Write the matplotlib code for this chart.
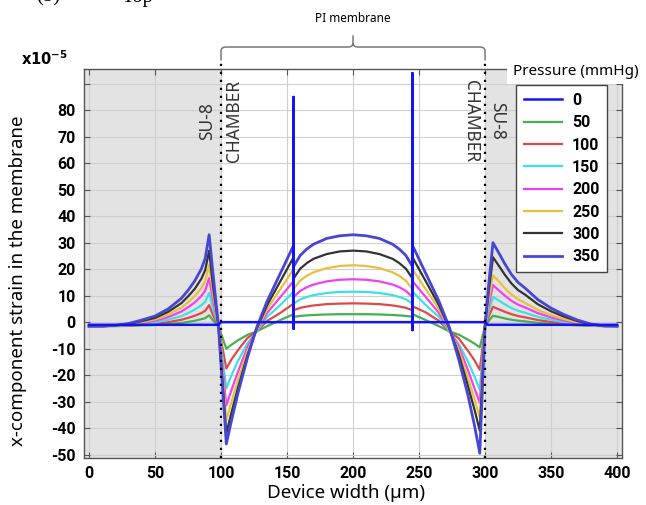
import matplotlib
matplotlib.use("Agg")
import matplotlib.pyplot as plt
from matplotlib.path import Path
from matplotlib.patches import PathPatch, Rectangle
from matplotlib.transforms import blended_transform_factory

plt.rcParams['font.family'] = ['Noto Sans', 'DejaVu Sans']
plt.rcParams['axes.unicode_minus'] = False

# x positions along the device (um)
x_pos = [0, 10, 20, 30, 40, 50, 60, 70, 75, 80, 85, 88, 91, 94, 98,
         104, 108, 113, 120, 127, 135, 145, 155,
         155, 160, 165, 170, 180, 190, 200, 210, 220, 230, 235, 240, 245,
         245, 255, 265, 273, 280, 287, 292, 296,
         300, 303, 306, 310, 315, 320, 325, 330, 340, 350, 360, 370, 380, 390, 400]

# strain (x1e-5) for each pressure
strain_50 = [-1.5, -1.5, -1.5, -1.4, -1.2, -1.1, -0.7, -0.3, 0.1, 0.5, 1.1, 1.5, 2.6, 0.6, -1.4,
             -10, -8.5, -6.8, -4.8, -3.5, -1.5, 0.8, 3,
             2.0, 2.35, 2.55, 2.7, 2.9, 3.0, 3.0, 3.0, 2.9, 2.7, 2.55, 2.35, 2.0,
             3, 0.8, -1.5, -3.5, -4.7, -6.6, -8.1, -9.5,
             -1.44, 0.6, 2.4, 2.0, 1.4, 0.9, 0.55, 0.3, -0.26, -0.66, -0.97, -1.21, -1.4, -1.49, -1.5]
strain_100 = [-1.5, -1.5, -1.4, -1.3, -1.0, -0.6, 0.0, 0.9, 1.6, 2.4, 3.4, 4.3, 6.4, 2.6, -1.4,
              -17.5, -14, -10.5, -6, -3.5, 0.5, 3.5, 7,
              4.5, 5.4, 5.9, 6.3, 6.8, 7.0, 7.1, 7.0, 6.8, 6.3, 5.9, 5.4, 4.5,
              6, 3.7, 0.5, -3.5, -6.1, -10.8, -14.4, -18,
              -1.4, 2.4, 5.8, 4.95, 3.9, 3.0, 2.3, 1.85, 0.8, 0.06, -0.5, -0.97, -1.32, -1.48, -1.5]
strain_150 = [-1.5, -1.5, -1.4, -1.1, -0.7, -0.1, 0.9, 2.3, 3.4, 4.7, 6.3, 7.7, 11.0, 5.0, -1.3,
              -25, -20, -14.5, -8, -3.5, 2, 6.5, 11.5,
              7.0, 8.6, 9.5, 10.2, 11.0, 11.4, 11.5, 11.4, 11.0, 10.2, 9.5, 8.6, 7.0,
              11.5, 6.5, 2, -3.5, -8.2, -14.8, -20.5, -25.5,
              -1.32, 4.45, 9.5, 8.3, 6.7, 5.3, 4.3, 3.6, 2.0, 0.9, 0.0, -0.7, -1.22, -1.46, -1.5]
strain_200 = [-1.5, -1.5, -1.3, -1.0, -0.3, 0.5, 1.9, 4.0, 5.6, 7.4, 9.8, 11.9, 16.6, 8.0, -1.2,
              -31.5, -25.5, -18.5, -9.5, -3, 3.5, 9.5, 15.5,
              9.5, 11.8, 13.2, 14.2, 15.4, 16.0, 16.2, 16.0, 15.4, 14.2, 13.2, 11.8, 9.5,
              15.5, 9.5, 3.5, -3, -9.2, -18, -25, -30.5,
              -1.25, 6.8, 14.0, 12.2, 10.0, 8.05, 6.6, 5.6, 3.4, 1.8, 0.6, -0.4, -1.1, -1.45, -1.5]
strain_250 = [-1.5, -1.5, -1.3, -0.8, 0.0, 1.0, 2.8, 5.5, 7.5, 9.8, 12.8, 15.5, 21.5, 10.5, -1.2,
              -37, -30, -21.5, -11, -3, 5, 12.5, 20,
              12.5, 15.7, 17.5, 18.8, 20.4, 21.2, 21.5, 21.2, 20.4, 18.8, 17.5, 15.7, 12.5,
              20, 12.5, 5, -3, -10.5, -21, -29, -36,
              -1.2, 8.9, 17.7, 15.6, 12.8, 10.4, 8.6, 7.35, 4.6, 2.65, 1.1, -0.1, -1.0, -1.44, -1.5]
strain_300 = [-1.5, -1.5, -1.25, -0.7, 0.4, 1.6, 3.9, 7.2, 9.7, 12.5, 16.3, 19.6, 27.0, 13.4, -1.1,
              -42, -34, -24.5, -12.5, -2.5, 6.5, 15.5, 24.5,
              16.5, 20.2, 22.3, 23.9, 25.7, 26.7, 27.0, 26.7, 25.7, 23.9, 22.3, 20.2, 16.5,
              24.5, 15.5, 6.5, -2.5, -12, -24, -33, -41,
              -1.1, 12.5, 24.5, 21.6, 17.9, 14.6, 12.1, 10.5, 6.75, 4.1, 2.05, 0.4, -0.84, -1.42, -1.5]
strain_350 = [-1.5, -1.5, -1.2, -0.5, 0.8, 2.3, 5.0, 9.0, 12.0, 15.5, 20.0, 24.0, 33.0, 18.0, -1.0,
              -46, -37, -26.5, -13.5, -2, 8, 18.5, 29,
              21, 25.2, 27.6, 29.4, 31.6, 32.6, 33.0, 32.6, 31.6, 29.4, 27.6, 25.2, 21,
              29, 18.5, 8, -2, -14, -27.5, -39, -49.5,
              -1.0, 15.5, 30.0, 26.5, 22.0, 18.0, 15.0, 13.0, 8.5, 5.3, 2.8, 0.8, -0.7, -1.4, -1.5]

# zero pressure curve (flat, with the two spikes at the chamber steps)
x_zero = [0, 98, 100, 155, 155, 155, 155, 245, 245, 245, 245, 300, 302, 400]
strain_0 = [-1, -1, 0, 0, 85, -2.5, 0, 0, 94, -3, 0, 0, -1, -1]

pressures = ['0', '50', '100', '150', '200', '250', '300', '350']
colors = ['#1414f0', '#45b050', '#e04848', '#40e0e0', '#f040f0', '#e8c040', '#333333', '#4646d6']

chamber_left = 100
chamber_right = 300

fig = plt.figure(figsize=(6.46, 5.05), dpi=100)
ax = fig.add_axes([0.130, 0.093, 0.833, 0.770])

xmin, xmax = -3.8, 403.8
ax.set_xlim(xmin, xmax)
ax.set_ylim(-51.3, 95.5)

# shaded SU-8 regions
ax.axvspan(xmin, chamber_left, color='#e3e3e3', zorder=0, lw=0)
ax.axvspan(chamber_right, xmax, color='#e3e3e3', zorder=0, lw=0)
ax.set_axisbelow(True)
ax.grid(True, color='#cfcfcf', lw=0.8)

series = [strain_50, strain_100, strain_150, strain_200, strain_250, strain_300, strain_350]
lines = []
l0, = ax.plot(x_zero, strain_0, color=colors[0], lw=1.8, zorder=4)
lines.append(l0)
for vals, c in zip(series, colors[1:]):
    lw = 2.0 if c == colors[-1] else 1.6
    l, = ax.plot(x_pos, vals, color=c, lw=lw, zorder=3)
    lines.append(l)

# chamber boundaries
for xb in (chamber_left, chamber_right):
    ax.axvline(xb, ymin=0, ymax=1.025, color='black', lw=1.6,
               ls=(0, (1, 2.6)), clip_on=False, zorder=5)

ax.text(89.5, 75.8, 'SU-8', rotation=90, ha='center', va='center', fontsize=12.5, color='#333')
ax.text(110, 75.8, 'CHAMBER', rotation=90, ha='center', va='center', fontsize=12.5, color='#333')
ax.text(289, 75.8, 'CHAMBER', rotation=270, ha='center', va='center', fontsize=12.5, color='#333')
ax.text(309.5, 75.8, 'SU-8', rotation=270, ha='center', va='center', fontsize=12.5, color='#333')

# curly bracket for the PI membrane
trans = blended_transform_factory(ax.transData, ax.transAxes)
mid = (chamber_left + chamber_right) / 2
yb, ye, yt = 1.057, 1.022, 1.087
verts = [(chamber_left, ye), (chamber_left, yb - 0.01), (chamber_left, yb), (chamber_left + 4, yb),
         (mid - 4, yb), (mid, yb), (mid, yb + 0.01), (mid, yt),
         (mid, yb + 0.01), (mid, yb), (mid + 4, yb),
         (chamber_right - 4, yb), (chamber_right, yb), (chamber_right, yb - 0.01), (chamber_right, ye)]
codes = [Path.MOVETO, Path.LINETO, Path.CURVE3, Path.CURVE3,
         Path.LINETO, Path.CURVE3, Path.CURVE3, Path.LINETO,
         Path.MOVETO, Path.CURVE3, Path.CURVE3,
         Path.LINETO, Path.CURVE3, Path.CURVE3, Path.LINETO]
ax.add_patch(PathPatch(Path(verts, codes), transform=trans, fill=False,
                       edgecolor='#777777', lw=1.1, clip_on=False))
ax.text(mid, 1.131, 'PI membrane', transform=trans, ha='center', va='center', fontsize=8.5)

# axes styling
ax.set_xticks(range(0, 401, 50))
ax.set_yticks(range(-50, 91, 10))
ax.set_yticklabels([str(v) if v <= 80 else '' for v in range(-50, 91, 10)])
ax.tick_params(direction='in', top=True, right=True, length=4, width=0.8,
               color='#555555', pad=6)
for lab in ax.get_xticklabels() + ax.get_yticklabels():
    lab.set_fontfamily('Roboto')
    lab.set_fontweight('bold')
    lab.set_fontsize(11.5)
for s in ax.spines.values():
    s.set_color('#555555')
    s.set_linewidth(1.0)

ax.set_xlabel('Device width (µm)', fontsize=13.5)
ax.xaxis.set_label_coords(0.487, -0.066)
ax.set_ylabel('x-component strain in the membrane', fontsize=13.5)
ax.yaxis.set_label_coords(-0.105, 0.455)

ax.text(-0.03, 1.0, r'$\mathbf{x10^{-5}}$', transform=ax.transAxes,
        ha='right', va='bottom', fontsize=10.5)

# legend with its title sitting on a white strip above it
fig.patches.append(Rectangle((0.785, 0.834), 0.215, 0.048, transform=fig.transFigure,
                             facecolor='white', edgecolor='none', zorder=5))
fig.text(0.794, 0.859, 'Pressure (mmHg)', ha='left', va='center', fontsize=11, zorder=6)
leg = fig.legend(lines, pressures, loc='upper left', bbox_to_anchor=(0.799, 0.832),
                 frameon=True, fancybox=False, framealpha=1, edgecolor='#444444',
                 handlelength=2.4, labelspacing=0.46, borderaxespad=0, borderpad=0.5,
                 handletextpad=0.6, prop={'family': 'Roboto', 'weight': 'bold', 'size': 11.5})
leg.set_zorder(7)
leg.get_frame().set_linewidth(1.0)

# cropped caption remnant at the very top
fig.text(0.056, 0.997, '(b)', ha='left', va='baseline', fontsize=15, family='Liberation Serif')
fig.text(0.189, 0.997, 'Top', ha='left', va='baseline', fontsize=15, family='Liberation Serif')

fig.savefig('out.png', dpi=100)
